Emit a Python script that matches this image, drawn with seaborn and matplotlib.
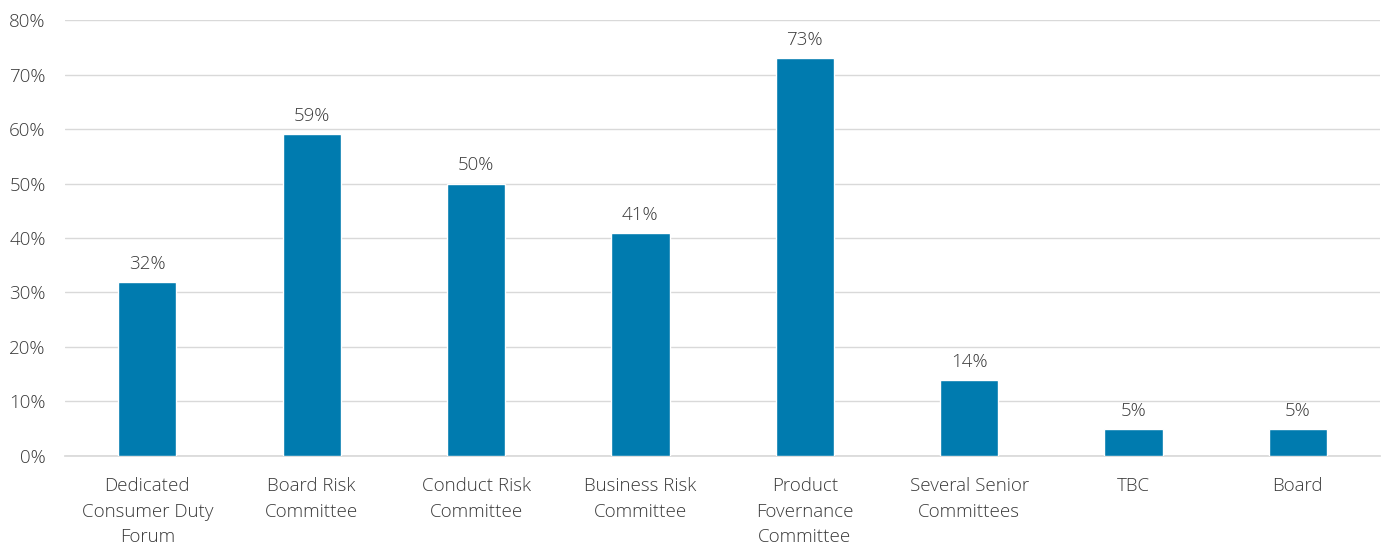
import matplotlib
matplotlib.use("Agg")
import matplotlib.pyplot as plt
import seaborn as sns
import pandas as pd

categories = ["Dedicated\nConsumer Duty\nForum", "Board Risk\nCommittee", "Conduct Risk\nCommittee",
              "Business Risk\nCommittee", "Product\nFovernance\nCommittee", "Several Senior\nCommittees",
              "TBC", "Board"]
values = [32, 59, 50, 41, 73, 14, 5, 5]
yticks = [0, 10, 20, 30, 40, 50, 60, 70, 80]

sns.set_theme(style="white")
plt.rcParams['font.family'] = ['Open Sans', 'DejaVu Sans']
text_color = "#3a3a3a"
fs = 13.5
fw = "light"

df = pd.DataFrame({"cat": categories, "val": values})
fig = plt.figure(figsize=(13.86, 5.44), dpi=100)
ax = fig.add_axes([0.047, 0.1618, 0.9487, 0.8014])
sns.barplot(data=df, x="cat", y="val", color="#007BAF", saturation=1, width=0.355, ax=ax, zorder=3)

ax.set_ylim(0, 80)
ax.set_xlim(-0.5, len(categories) - 0.5)
ax.set_yticks(yticks)
ax.set_yticklabels([f"{v}%" for v in yticks])
ax.yaxis.grid(True, color="#d9d9d9", linewidth=1, zorder=0)
ax.set_axisbelow(True)
for s in ["left", "right", "top"]:
    ax.spines[s].set_visible(False)
ax.spines["bottom"].set_color("#d9d9d9")
ax.set_xlabel("")
ax.set_ylabel("")
ax.tick_params(axis="both", length=0, labelsize=fs, colors=text_color)
ax.tick_params(axis="x", pad=15)
ax.tick_params(axis="y", pad=14)
for lbl in ax.get_xticklabels() + ax.get_yticklabels():
    lbl.set_fontweight(fw)
for lbl in ax.get_xticklabels():
    lbl.set_linespacing(1.55)
    lbl.set_va("top")
for i, v in enumerate(values):
    ax.annotate(f"{v}%", (i, v), xytext=(0, 6.5), textcoords="offset points",
                ha="center", va="bottom", fontsize=fs, color=text_color, fontweight=fw)

fig.savefig("out.png", dpi=100)
